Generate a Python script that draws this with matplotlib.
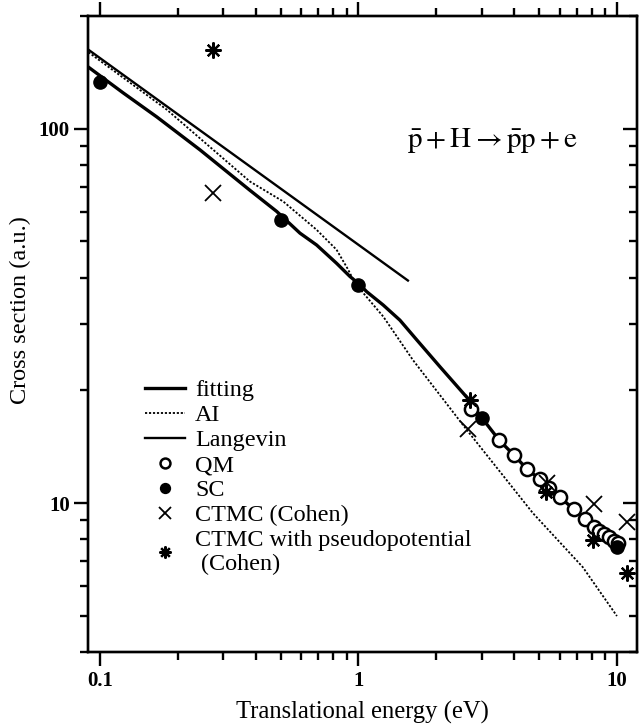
import matplotlib
matplotlib.use("Agg")
import matplotlib.pyplot as plt
from matplotlib.ticker import FuncFormatter, NullFormatter, LogLocator

plt.rcParams['font.family'] = ['Liberation Serif', 'DejaVu Serif']
plt.rcParams['mathtext.fontset'] = 'stix'

# fitting curve (thick solid)
fit_e = [0.0903, 0.1227, 0.166, 0.2438, 0.380, 0.483, 0.594, 0.689, 0.823, 0.927,
         1.013, 1.076, 1.247, 1.447, 1.68, 2.07, 2.62, 3.0, 3.51, 4.01, 4.5, 5.04,
         6.02, 6.82, 7.52, 8.15, 9.0, 10.0]
fit_s = [146, 124.8, 107.5, 87.8, 68.5, 60.1, 52.6, 48.9, 43.7, 40.3,
         38.3, 36.7, 33.8, 30.8, 27.3, 23.1, 19.2, 16.9, 14.7, 13.4, 12.3, 11.57,
         10.36, 9.62, 9.04, 8.64, 8.2, 7.64]

# AI (dotted)
ai_e = [0.0903, 0.1815, 0.380, 0.512, 0.689, 0.823, 0.913, 0.955, 1.044, 1.247,
        1.625, 2.66, 4.73, 7.38, 10.0]
ai_s = [160, 112.4, 72.3, 63.9, 53.7, 47.5, 42.0, 39.5, 36.4, 31.5,
        24.1, 15.5, 9.40, 6.74, 4.99]

# Langevin (straight line on log-log)
lang_e = [0.0903, 1.554]
lang_s = [162.5, 39.3]

# QM (open circles)
qm_e = [2.72, 3.51, 4.01, 4.50, 5.04, 5.47, 6.02, 6.82, 7.52, 8.15, 8.54, 8.91, 9.34, 9.74, 10.06]
qm_s = [17.8, 14.7, 13.4, 12.3, 11.57, 11.0, 10.36, 9.62, 9.04, 8.64, 8.43, 8.26, 8.09, 7.93, 7.80]

# SC (filled circles)
sc_e = [0.1, 0.5, 1.0, 3.0, 10.0]
sc_s = [133.6, 57.2, 38.3, 16.9, 7.64]

# CTMC (Cohen)
ctmc_e = [0.273, 2.66, 5.35, 8.17, 10.9]
ctmc_s = [67.3, 15.8, 11.3, 9.94, 8.91]

# CTMC with pseudopotential (Cohen)
ctmcp_e = [0.273, 2.70, 5.30, 8.09, 10.9]
ctmcp_s = [162.5, 18.9, 10.7, 7.96, 6.49]

fig = plt.figure(figsize=(6.44, 7.28), dpi=100)
ax = fig.add_axes([0.1374, 0.1044, 0.8516, 0.8736])

ax.plot(fit_e, fit_s, color='black', lw=2.4, label='fitting')
ax.plot(ai_e, ai_s, color='black', lw=1.3, linestyle=(0, (1.2, 1.0)), label='AI')
ax.plot(lang_e, lang_s, color='black', lw=1.7, label='Langevin')
ax.plot(qm_e, qm_s, 'o', ms=9.5, mfc='white', mec='black', mew=1.8, ls='none', label='QM')
ax.plot(sc_e, sc_s, 'o', ms=9.5, color='black', ls='none', label='SC')
ax.plot(ctmc_e, ctmc_s, 'x', ms=11, mew=1.3, color='black', ls='none', label='CTMC (Cohen)')
ax.plot(ctmcp_e, ctmcp_s, marker=(8, 2, 0), ms=11.5, mew=1.6, color='black', ls='none',
        label='CTMC with pseudopotential\n (Cohen)')

ax.set_xscale('log')
ax.set_yscale('log')
ax.set_xlim(0.0903, 11.95)
ax.set_ylim(4.0, 200)

fmt = FuncFormatter(lambda v, p: '%g' % v)
ax.xaxis.set_major_formatter(fmt)
ax.yaxis.set_major_formatter(fmt)
ax.xaxis.set_minor_formatter(NullFormatter())
ax.yaxis.set_minor_formatter(NullFormatter())
ax.xaxis.set_minor_locator(LogLocator(subs=range(2, 10)))
ax.yaxis.set_minor_locator(LogLocator(subs=range(2, 10)))

for s in ax.spines.values():
    s.set_linewidth(1.7)
ax.tick_params(axis='x', which='both', direction='out', top=True, bottom=True, width=1.7)
ax.tick_params(axis='y', which='both', direction='out', left=True, right=False, width=1.7)
ax.tick_params(which='major', length=10, labelsize=15)
ax.tick_params(which='minor', length=6)
for lab in ax.get_xticklabels() + ax.get_yticklabels():
    lab.set_fontweight('bold')

# right side ticks point inward
ax2 = ax.twinx()
ax2.set_yscale('log')
ax2.set_ylim(ax.get_ylim())
ax2.yaxis.set_minor_locator(LogLocator(subs=range(2, 10)))
ax2.yaxis.set_major_formatter(NullFormatter())
ax2.yaxis.set_minor_formatter(NullFormatter())
ax2.tick_params(axis='y', which='both', direction='in', width=1.7)
ax2.tick_params(which='major', length=10)
ax2.tick_params(which='minor', length=6)
for s in ax2.spines.values():
    s.set_linewidth(1.7)

ax.set_xlabel('Translational energy (eV)', fontsize=17.7, labelpad=7)
ax.set_ylabel('Cross section (a.u.)', fontsize=17.5)
ax.yaxis.set_label_coords(-0.105, 0.538)

ax.text(0.581, 0.805, r'$\bar{\mathrm{p}}+\mathrm{H}\rightarrow\bar{\mathrm{p}}\mathrm{p}+\mathrm{e}$',
        transform=ax.transAxes, fontsize=21, va='center', ha='left')

ax.legend(loc='upper left', bbox_to_anchor=(0.103, 0.429), frameon=False, fontsize=17.4,
          handlelength=1.65, handletextpad=0.42, labelspacing=0.13, borderpad=0,
          borderaxespad=0, markerscale=0.75)

fig.savefig('out.png', dpi=100)
